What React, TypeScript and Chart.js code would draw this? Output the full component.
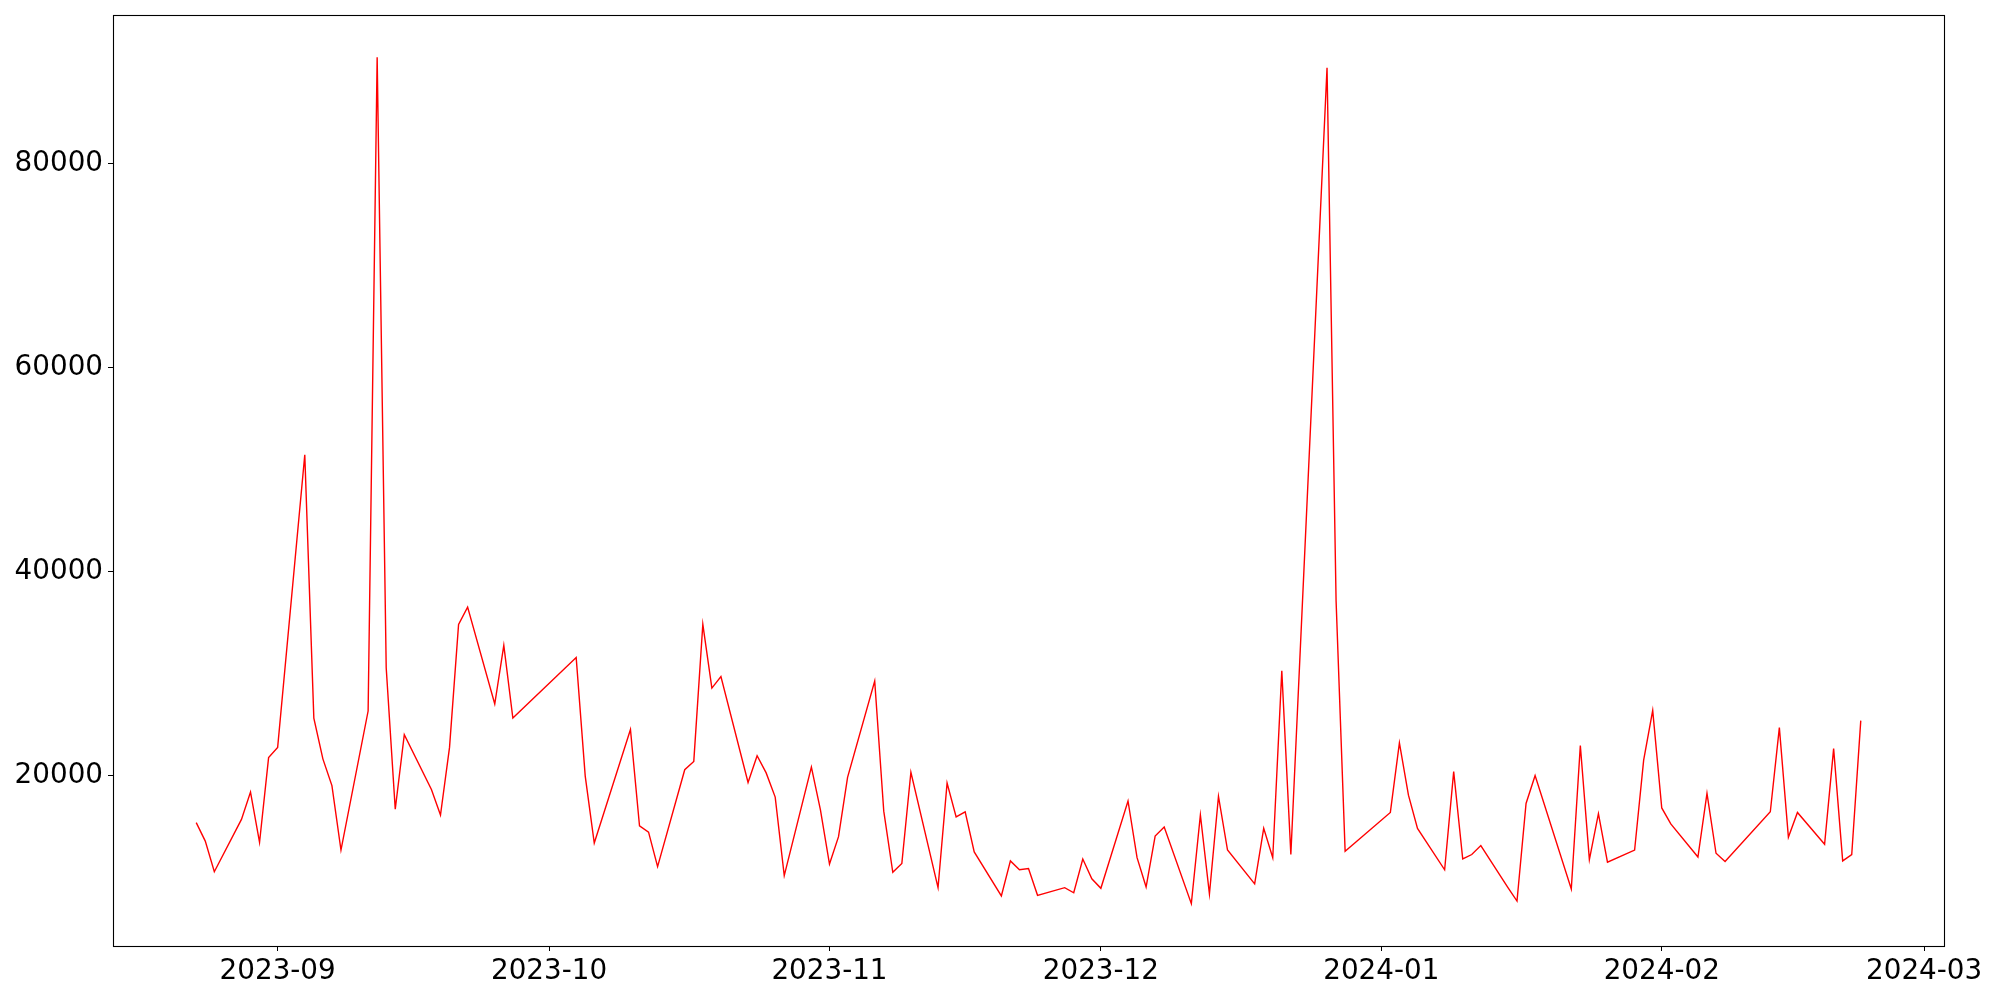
import React, { useEffect, useRef } from "react";
import { Chart, registerables } from "chart.js";

Chart.register(...registerables);

const dates: string[] = [
  "2023-08-23", "2023-08-24", "2023-08-25", "2023-08-28", "2023-08-29", "2023-08-30", "2023-08-31",
  "2023-09-01", "2023-09-04", "2023-09-05", "2023-09-06", "2023-09-07", "2023-09-08",
  "2023-09-11", "2023-09-12", "2023-09-13", "2023-09-14", "2023-09-15",
  "2023-09-18", "2023-09-19", "2023-09-20", "2023-09-21", "2023-09-22",
  "2023-09-25", "2023-09-26", "2023-09-27",
  "2023-10-04", "2023-10-05", "2023-10-06",
  "2023-10-10", "2023-10-11", "2023-10-12", "2023-10-13",
  "2023-10-16", "2023-10-17", "2023-10-18", "2023-10-19", "2023-10-20",
  "2023-10-23", "2023-10-24", "2023-10-25", "2023-10-26", "2023-10-27",
  "2023-10-30", "2023-10-31", "2023-11-01", "2023-11-02", "2023-11-03",
  "2023-11-06", "2023-11-07", "2023-11-08", "2023-11-09", "2023-11-10",
  "2023-11-13", "2023-11-14", "2023-11-15", "2023-11-16", "2023-11-17",
  "2023-11-20", "2023-11-21", "2023-11-22", "2023-11-23", "2023-11-24",
  "2023-11-27", "2023-11-28", "2023-11-29", "2023-11-30", "2023-12-01",
  "2023-12-04", "2023-12-05", "2023-12-06", "2023-12-07", "2023-12-08",
  "2023-12-11", "2023-12-12", "2023-12-13", "2023-12-14", "2023-12-15",
  "2023-12-18", "2023-12-19", "2023-12-20", "2023-12-21", "2023-12-22",
  "2023-12-26", "2023-12-27", "2023-12-28",
  "2024-01-02", "2024-01-03", "2024-01-04", "2024-01-05",
  "2024-01-08", "2024-01-09", "2024-01-10", "2024-01-11", "2024-01-12",
  "2024-01-15", "2024-01-16", "2024-01-17", "2024-01-18",
  "2024-01-22", "2024-01-23", "2024-01-24", "2024-01-25", "2024-01-26",
  "2024-01-29", "2024-01-30", "2024-01-31", "2024-02-01", "2024-02-02",
  "2024-02-05", "2024-02-06", "2024-02-07", "2024-02-08",
  "2024-02-13", "2024-02-14", "2024-02-15", "2024-02-16",
  "2024-02-19", "2024-02-20", "2024-02-21", "2024-02-22", "2024-02-23",
];

const values: number[] = [
  15375, 13563, 10563, 15688, 18375, 13437, 21750,
  22750, 51437, 25625, 21625, 19000, 12687,
  26312, 90390, 30562, 16687, 24000,
  18625, 16125, 22750, 34812, 36500,
  27000, 32750, 25625,
  31562, 19937, 13375,
  24500, 15062, 14437, 11062,
  20562, 21375, 34812, 28562, 29687,
  19312, 21937, 20250, 17875, 10187,
  20812, 16625, 11312, 14000, 19812,
  29250, 16500, 10500, 11375, 20312,
  9000, 19250, 15937, 16437, 12500,
  8187, 11625, 10750, 10875, 8250,
  9000, 8500, 11812, 9875, 8937,
  17500, 11937, 9062, 14062, 14937,
  7430, 16125, 8375, 17937, 12687,
  9375, 14812, 11937, 30250, 12250,
  89375, 37125, 12562,
  16375, 23187, 18062, 14812,
  10750, 20375, 11812, 12250, 13125,
  9000, 7687, 17250, 20000,
  8875, 22937, 11750, 16250, 11500,
  12687, 21500, 26375, 16812, 15250,
  12000, 18250, 12375, 11562,
  16437, 24687, 13937, 16375,
  13250, 22625, 11625, 12250, 25375,
];

const xTickLabels: string[] = ["2023-09", "2023-10", "2023-11", "2023-12", "2024-01", "2024-02", "2024-03"];
const yTickValues: number[] = [20000, 40000, 60000, 80000];

function dayNum(s: string): number {
  const [y, m, d] = s.split("-").map(Number);
  return Date.UTC(y, m - 1, d) / 86400000;
}

function fmtDay(v: number): string {
  const dt = new Date(Math.round(v) * 86400000);
  const y = dt.getUTCFullYear();
  const m = String(dt.getUTCMonth() + 1).padStart(2, "0");
  return `${y}-${m}`;
}

const frame = {
  id: "frame",
  afterDraw(chart: any) {
    const { ctx, chartArea } = chart;
    ctx.save();
    ctx.strokeStyle = "#000";
    ctx.lineWidth = 1.1;
    ctx.strokeRect(
      Math.round(chartArea.left) + 0.5,
      Math.round(chartArea.top) + 0.5,
      Math.round(chartArea.right - chartArea.left),
      Math.round(chartArea.bottom - chartArea.top)
    );
    ctx.restore();
  },
};

export default function App() {
  const ref = useRef<HTMLCanvasElement | null>(null);

  useEffect(() => {
    if (!ref.current) return;
    const xs = dates.map(dayNum);
    const xMinD = Math.min(...xs);
    const xMaxD = Math.max(...xs);
    const xr = xMaxD - xMinD;
    const yMinD = Math.min(...values);
    const yMaxD = Math.max(...values);
    const yr = yMaxD - yMinD;
    const pts = xs.map((x, i) => ({ x, y: values[i] }));
    const xTickVals = xTickLabels.map((l) => dayNum(l + "-01"));
    const font = { family: "'DejaVu Sans'", size: 27.8 };

    const chart = new Chart(ref.current, {
      type: "line",
      data: {
        datasets: [
          {
            data: pts,
            borderColor: "#ff0000",
            borderWidth: 1.4,
            pointRadius: 0,
            tension: 0,
            fill: false,
          },
        ],
      },
      options: {
        animation: false,
        responsive: false,
        devicePixelRatio: 1,
        layout: { padding: { left: 0, top: 15, right: 56, bottom: 0 } },
        plugins: { legend: { display: false }, tooltip: { enabled: false } },
        scales: {
          x: {
            type: "linear",
            min: xMinD - 0.05 * xr,
            max: xMaxD + 0.05 * xr,
            afterBuildTicks: (scale: any) => {
              scale.ticks = xTickVals.map((v) => ({ value: v }));
            },
            afterFit: (scale: any) => {
              scale.height = 54;
              scale.paddingLeft = 0;
              scale.paddingRight = 0;
            },
            grid: { drawOnChartArea: false, drawTicks: true, tickLength: 5, tickColor: "#000", tickWidth: 1 },
            border: { display: true, color: "#000", width: 1 },
            ticks: {
              autoSkip: false,
              maxRotation: 0,
              minRotation: 0,
              color: "#000",
              font,
              padding: 4,
              callback: (v: any) => fmtDay(Number(v)),
            },
          },
          y: {
            type: "linear",
            min: yMinD - 0.05 * yr,
            max: yMaxD + 0.05 * yr,
            afterBuildTicks: (scale: any) => {
              scale.ticks = yTickValues.map((v) => ({ value: v }));
            },
            afterFit: (scale: any) => {
              scale.width = 113;
              scale.paddingTop = 0;
              scale.paddingBottom = 0;
            },
            grid: { drawOnChartArea: false, drawTicks: true, tickLength: 5, tickColor: "#000", tickWidth: 1 },
            border: { display: true, color: "#000", width: 1 },
            ticks: {
              color: "#000",
              font,
              padding: 5,
              callback: (v: any) => String(v),
            },
          },
        },
      },
      plugins: [frame],
    });
    return () => chart.destroy();
  }, []);

  return (
    <div style={{ position: "absolute", left: 0, top: 0, width: 2000, height: 1000, background: "#fff" }}>
      <canvas ref={ref} width={2000} height={1000} style={{ width: 2000, height: 1000, display: "block" }} />
    </div>
  );
}
